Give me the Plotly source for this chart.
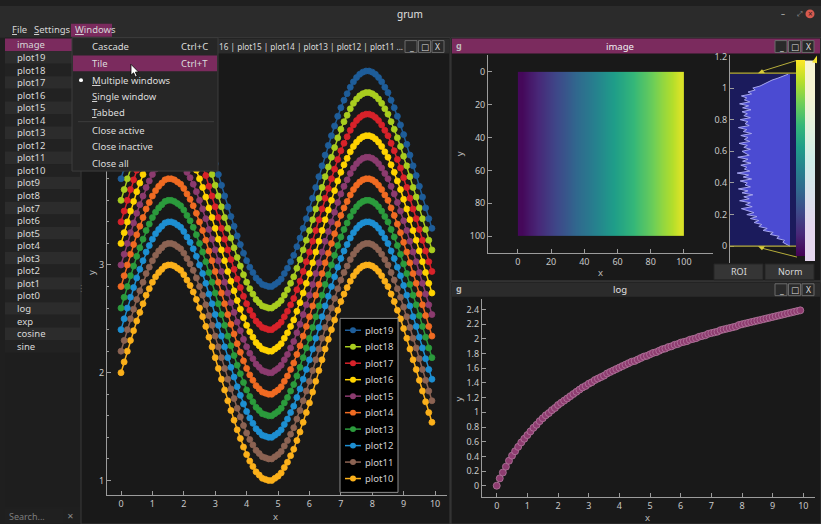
import plotly.graph_objects as go

W, H = 821, 524
FONT = "Noto Sans, DejaVu Sans, sans-serif"

# ---------------- data ----------------
X_VALUES = [
    0.0, 0.1, 0.2, 0.3, 0.4, 0.5, 0.6, 0.7, 0.8, 0.9,
    1.0, 1.1, 1.2, 1.3, 1.4, 1.5, 1.6, 1.7, 1.8, 1.9,
    2.0, 2.1, 2.2, 2.3, 2.4, 2.5, 2.6, 2.7, 2.8, 2.9,
    3.0, 3.1, 3.2, 3.3, 3.4, 3.5, 3.6, 3.7, 3.8, 3.9,
    4.0, 4.1, 4.2, 4.3, 4.4, 4.5, 4.6, 4.7, 4.8, 4.9,
    5.0, 5.1, 5.2, 5.3, 5.4, 5.5, 5.6, 5.7, 5.8, 5.9,
    6.0, 6.1, 6.2, 6.3, 6.4, 6.5, 6.6, 6.7, 6.8, 6.9,
    7.0, 7.1, 7.2, 7.3, 7.4, 7.5, 7.6, 7.7, 7.8, 7.9,
    8.0, 8.1, 8.2, 8.3, 8.4, 8.5, 8.6, 8.7, 8.8, 8.9,
    9.0, 9.1, 9.2, 9.3, 9.4, 9.5, 9.6, 9.7, 9.8, 9.9,
]
SINE_BASE = [
    0.00, 0.10, 0.20, 0.30, 0.39, 0.48, 0.56, 0.64, 0.72, 0.78,
    0.84, 0.89, 0.93, 0.96, 0.99, 1.00, 1.00, 0.99, 0.97, 0.95,
    0.91, 0.86, 0.81, 0.75, 0.68, 0.60, 0.52, 0.43, 0.33, 0.24,
    0.14, 0.04, -0.06, -0.16, -0.26, -0.35, -0.44, -0.53, -0.61, -0.69,
    -0.76, -0.82, -0.87, -0.92, -0.95, -0.98, -0.99, -1.00, -1.00, -0.98,
    -0.96, -0.93, -0.88, -0.83, -0.77, -0.71, -0.63, -0.55, -0.46, -0.37,
    -0.28, -0.18, -0.08, 0.02, 0.12, 0.22, 0.31, 0.40, 0.49, 0.58,
    0.66, 0.73, 0.79, 0.85, 0.90, 0.94, 0.97, 0.99, 1.00, 1.00,
    0.99, 0.97, 0.94, 0.90, 0.85, 0.80, 0.73, 0.66, 0.58, 0.50,
    0.41, 0.32, 0.22, 0.12, 0.03, -0.07, -0.17, -0.27, -0.37, -0.46,
]
SERIES_NAMES = ["plot10", "plot11", "plot12", "plot13", "plot14",
                "plot15", "plot16", "plot17", "plot18", "plot19"]
SERIES_OFFSETS = [2.0, 2.2, 2.4, 2.6, 2.8, 3.0, 3.2, 3.4, 3.6, 3.8]
SERIES_COLORS = ["#fbb01a", "#8c6353", "#1d8fd2", "#2b9b3c", "#f06b22",
                 "#8c3b6f", "#ffd300", "#d8222a", "#a9cd1f", "#1e5d99"]

LOG_VALUES = [
    0.00, 0.10, 0.18, 0.26, 0.34, 0.41, 0.47, 0.53, 0.59, 0.64,
    0.69, 0.74, 0.79, 0.83, 0.88, 0.92, 0.96, 0.99, 1.03, 1.06,
    1.10, 1.13, 1.16, 1.19, 1.22, 1.25, 1.28, 1.31, 1.34, 1.36,
    1.39, 1.41, 1.44, 1.46, 1.48, 1.50, 1.53, 1.55, 1.57, 1.59,
    1.61, 1.63, 1.65, 1.67, 1.69, 1.70, 1.72, 1.74, 1.76, 1.77,
    1.79, 1.81, 1.82, 1.84, 1.86, 1.87, 1.89, 1.90, 1.92, 1.93,
    1.95, 1.96, 1.97, 1.99, 2.00, 2.01, 2.03, 2.04, 2.05, 2.07,
    2.08, 2.09, 2.10, 2.12, 2.13, 2.14, 2.15, 2.16, 2.17, 2.19,
    2.20, 2.21, 2.22, 2.23, 2.24, 2.25, 2.26, 2.27, 2.28, 2.29,
    2.30, 2.31, 2.32, 2.33, 2.34, 2.35, 2.36, 2.37, 2.38, 2.39,
]
LOG_COLOR = "#8e3c70"

# image: mean level of each 5-px column band (x 0..100), rows 0..100
IMAGE_COLUMN_X = [2.5, 7.5, 12.5, 17.5, 22.5, 27.5, 32.5, 37.5, 42.5, 47.5,
                  52.5, 57.5, 62.5, 67.5, 72.5, 77.5, 82.5, 87.5, 92.5, 97.5]
IMAGE_COLUMN_LEVELS = [0.02, 0.07, 0.12, 0.17, 0.22, 0.27, 0.32, 0.37, 0.42, 0.47,
                       0.52, 0.57, 0.62, 0.67, 0.72, 0.77, 0.82, 0.87, 0.92, 0.98]
IMAGE_ROW_Y = [25, 75]
LUT_LEVELS = [0.0, 1.09]

HIST_LEVELS = [
    0.0000, 0.0125, 0.0250, 0.0375, 0.0500, 0.0625, 0.0750, 0.0875, 0.1000, 0.1125,
    0.1250, 0.1375, 0.1500, 0.1625, 0.1750, 0.1875, 0.2000, 0.2125, 0.2250, 0.2375,
    0.2500, 0.2625, 0.2750, 0.2875, 0.3000, 0.3125, 0.3250, 0.3375, 0.3500, 0.3625,
    0.3750, 0.3875, 0.4000, 0.4125, 0.4250, 0.4375, 0.4500, 0.4625, 0.4750, 0.4875,
    0.5000, 0.5125, 0.5250, 0.5375, 0.5500, 0.5625, 0.5750, 0.5875, 0.6000, 0.6125,
    0.6250, 0.6375, 0.6500, 0.6625, 0.6750, 0.6875, 0.7000, 0.7125, 0.7250, 0.7375,
    0.7500, 0.7625, 0.7750, 0.7875, 0.8000, 0.8125, 0.8250, 0.8375, 0.8500, 0.8625,
    0.8750, 0.8875, 0.9000, 0.9125, 0.9250, 0.9375, 0.9500, 0.9625, 0.9750, 0.9875,
    1.0000, 1.0125, 1.0250, 1.0375, 1.0500, 1.0625, 1.0750, 1.0875,
]
HIST_COUNTS = [
    0.00, 0.05, 0.12, 0.09, 0.22, 0.18, 0.33, 0.28, 0.45, 0.38,
    0.52, 0.47, 0.60, 0.52, 0.66, 0.55, 0.72, 0.60, 0.69, 0.81,
    0.63, 0.74, 0.66, 0.84, 0.68, 0.77, 0.62, 0.80, 0.70, 0.86,
    0.66, 0.75, 0.71, 0.83, 0.64, 0.78, 0.69, 0.88, 0.67, 0.76,
    0.72, 0.82, 0.65, 0.79, 0.70, 0.87, 0.68, 0.74, 0.80, 0.66,
    0.77, 0.71, 0.85, 0.67, 0.76, 0.70, 0.82, 0.64, 0.78, 0.72,
    0.86, 0.68, 0.75, 0.70, 0.83, 0.66, 0.77, 0.71, 0.80, 0.65,
    0.79, 0.69, 0.84, 0.67, 0.76, 0.72, 0.81, 0.64, 0.70, 0.58,
    0.62, 0.50, 0.44, 0.36, 0.30, 0.20, 0.12, 0.03,
]

SIDEBAR_ITEMS = ["image", "plot19", "plot18", "plot17", "plot16", "plot15", "plot14",
                 "plot13", "plot12", "plot11", "plot10", "plot9", "plot8", "plot7",
                 "plot6", "plot5", "plot4", "plot3", "plot2", "plot1", "plot0",
                 "log", "exp", "cosine", "sine"]
MENU_ITEMS = ["Cascade", "Tile", "<u>M</u>ultiple windows", "<u>S</u>ingle window",
              "<u>T</u>abbed", "Close active", "Close inactive", "Close all"]
MENU_SHORTCUTS = ["Ctrl+C", "Ctrl+T", "", "", "", "", "", ""]

# ---------------- helpers ----------------
shapes, annotations = [], []


def fx(x):
    return x / W


def fy(y):
    return 1 - y / H


def rect(x0, y0, x1, y1, fill, line=None, lw=0, layer="below"):
    shapes.append(dict(type="rect", xref="paper", yref="paper",
                       x0=fx(x0), x1=fx(x1), y0=fy(y1), y1=fy(y0),
                       fillcolor=fill, layer=layer,
                       line=dict(color=line or fill, width=lw)))


def seg(x0, y0, x1, y1, color, lw=1, layer="above"):
    shapes.append(dict(type="line", xref="paper", yref="paper",
                       x0=fx(x0), x1=fx(x1), y0=fy(y0), y1=fy(y1),
                       layer=layer, line=dict(color=color, width=lw)))


def circ(cx, cy, r, fill, line=None, lw=0, layer="above"):
    shapes.append(dict(type="circle", xref="paper", yref="paper",
                       x0=fx(cx - r), x1=fx(cx + r), y0=fy(cy + r), y1=fy(cy - r),
                       fillcolor=fill, layer=layer,
                       line=dict(color=line or fill, width=lw)))


def poly(pts, fill, line=None, lw=0, layer="above"):
    d = "M " + " L ".join(f"{fx(x):.5f} {fy(y):.5f}" for x, y in pts) + " Z"
    shapes.append(dict(type="path", xref="paper", yref="paper", path=d,
                       fillcolor=fill, layer=layer,
                       line=dict(color=line or fill, width=lw)))


def text(x, y, s, size=9.5, color="#d6d6d6", anchor="center", angle=0):
    annotations.append(dict(xref="paper", yref="paper", x=fx(x), y=fy(y),
                            text=s, showarrow=False, textangle=angle,
                            xanchor=anchor, yanchor="middle", borderpad=0,
                            font=dict(family=FONT, size=size, color=color)))


def win_buttons(x_right, y0):
    glyphs = ["_", "□", "X"]
    for i, g in enumerate(glyphs):
        bx = x_right - 38 + i * 13.5
        rect(bx, y0, bx + 12, y0 + 12, "#2a2a2a", "#6a6a6a", 1, layer="below")
        text(bx + 6, y0 + 6, g, size=8.5, color="#dddddd")


# ---------------- chrome: app window ----------------
PURPLE = "#7b2b5e"
rect(0, 0, W, 32, "#2b2b2b")
text(410, 8, "grum", size=10, color="#e0e0e0")
text(783, 8, "–", size=8, color="#bbbbbb")
text(800, 8, "⤢", size=7, color="#999999")
circ(810, 8, 4.5, "#d65a4f")
text(810, 8, "×", size=8, color="#3a1a1a")

text(11, 24, "<u>F</u>ile", size=9.5, anchor="left")
text(33, 24, "<u>S</u>ettings", size=9.5, anchor="left")
rect(71, 18, 112, 31, PURPLE)
text(74, 24, "<u>W</u>indows", size=9.5, anchor="left")

# sidebar
rect(5, 32, 80, 506, "#1e1e1e")
ROW_H = 12.7
for i, name in enumerate(SIDEBAR_ITEMS):
    top = 33 + ROW_H * i
    if i == 0:
        col = PURPLE
    elif i % 2 == 1:
        col = "#2c2c2c"
    else:
        col = "#222222"
    rect(5, top, 80, top + ROW_H, col)
    text(16, top + ROW_H / 2, name, size=9.5, anchor="left", color="#d8d8d8")
rect(5, 508, 63, 523, "#202020")
text(8, 516, "Search...", size=9, anchor="left", color="#7d7d7d")
text(70, 515, "✕", size=8, color="#8a8a8a")
text(81, 285, "⋮", size=8, color="#666666")

# ---------------- windows ----------------
PLOT_BG = "#191919"
# main plot window
rect(81, 32, 450, 524, PLOT_BG, "#3a3a3a", 1)
rect(82, 33, 449, 48, "#2b2b2b")
text(218, 41, "16 | plot15 | plot14 | plot13 | plot12 | plot11 ...", size=8.2,
     anchor="left", color="#dcdcdc")
win_buttons(443, 35)

# image window
rect(451, 32, 821, 278, PLOT_BG, "#3a3a3a", 1)
rect(452, 33, 820, 48, PURPLE)
text(459, 40, "<b>g</b>", size=9, color="#c0c0c0")
text(620, 41, "image", size=9.5, color="#f0f0f0")
win_buttons(813, 35)

# log window
rect(451, 279, 821, 524, PLOT_BG, "#3a3a3a", 1)
rect(452, 280, 820, 294, "#2b2b2b")
text(459, 286, "<b>g</b>", size=9, color="#c0c0c0")
text(620, 287, "log", size=9.5, color="#e0e0e0")
win_buttons(813, 281)

# LUT region behind histogram (data coords on hist axis)
shapes.append(dict(type="rect", xref="x3 domain", yref="y3",
                   x0=0, x1=1, y0=LUT_LEVELS[0], y1=LUT_LEVELS[1],
                   fillcolor="#1b1b5c", line=dict(width=0), layer="below"))

# ---------------- traces ----------------
fig = go.Figure()

# main plot (sine family)
for name, off, col in zip(SERIES_NAMES, SERIES_OFFSETS, SERIES_COLORS):
    fig.add_trace(go.Scatter(
        x=X_VALUES, y=[b + off for b in SINE_BASE], name=name,
        mode="lines+markers", showlegend=False,
        line=dict(color=col, width=1.5),
        marker=dict(color=col, size=6, line=dict(color=col, width=0.8)),
        xaxis="x", yaxis="y"))

# image
fig.add_trace(go.Heatmap(
    x=IMAGE_COLUMN_X, y=IMAGE_ROW_Y,
    z=[IMAGE_COLUMN_LEVELS for _ in IMAGE_ROW_Y],
    colorscale="Viridis", zmin=LUT_LEVELS[0], zmax=LUT_LEVELS[1] - 0.05,
    zsmooth="best", xaxis="x2", yaxis="y2", showscale=True,
    colorbar=dict(x=fx(796), xanchor="left", y=fy(253), yanchor="bottom",
                  len=(253 - 55) / H, lenmode="fraction",
                  thickness=9, thicknessmode="pixels", xpad=0, ypad=0,
                  outlinewidth=0, showticklabels=False, ticks="")))

# histogram of levels
fig.add_trace(go.Scatter(
    x=HIST_COUNTS, y=HIST_LEVELS, mode="lines", fill="tozerox",
    fillcolor="#4b4bd2", line=dict(color="#a6a6ee", width=1),
    showlegend=False, xaxis="x3", yaxis="y3"))

# light gradient-editor strip
LUT_STRIP = [0.0, 0.5, 1.0]
fig.add_trace(go.Heatmap(
    x=[0, 1], y=LUT_STRIP, z=[[v, v] for v in LUT_STRIP],
    colorscale=[[0, "#e4d6ee"], [0.5, "#cfeee9"], [1, "#f6f4d2"]],
    zsmooth="best", showscale=False, xaxis="x5", yaxis="y5", hoverinfo="skip"))

# log plot
fig.add_trace(go.Scatter(
    x=X_VALUES, y=LOG_VALUES, mode="lines+markers", showlegend=False,
    line=dict(color=LOG_COLOR, width=1),
    marker=dict(color=LOG_COLOR, size=7, line=dict(color="#b47a9e", width=0.8)),
    xaxis="x4", yaxis="y4"))

# ---------------- overlays: LUT markers, buttons, legend, menu ----------------
YEL = "#b6ad3a"
seg(730, 68, 796, 68, YEL, 1.2)
seg(730, 243, 796, 243, YEL, 1.2)
seg(762, 66, 797, 55, YEL, 1)
seg(762, 245, 797, 254, YEL, 1)
poly([(758, 68), (765, 68), (762, 64)], "#d8cc3a")
poly([(758, 243), (765, 243), (762, 247)], "#d8cc3a")
poly([(812, 57), (817, 50), (817, 58)], "#f2e130")

rect(714, 261, 763, 277, "#353535", "#262626", 1, layer="above")
rect(765, 261, 814, 277, "#353535", "#262626", 1, layer="above")
text(738.5, 269, "ROI", size=9, color="#d8d8d8")
text(789.5, 269, "Norm", size=9, color="#d8d8d8")

# legend of the main plot (plot19 at top)
rect(340, 316, 398, 492, "#000000", "#8c8c8c", 1, layer="above")
for i, (name, col) in enumerate(zip(SERIES_NAMES[::-1], SERIES_COLORS[::-1])):
    yy = 328 + 16.67 * i
    seg(345, yy, 361, yy, col, 1.5)
    circ(353, yy, 3, col)
    text(364, yy, name, size=9.5, anchor="left", color="#cfcfcf")

# Windows menu dropdown
rect(72, 32, 218, 167, "#262626", "#3c3c3c", 1, layer="above")
rect(73, 50, 217, 66, PURPLE, layer="above")
seg(78, 117, 214, 117, "#3c3c3c", 1)
MENU_Y = [41, 58, 75, 92, 108, 126, 142, 159]
for label, sc, yy in zip(MENU_ITEMS, MENU_SHORTCUTS, MENU_Y):
    text(91, yy, label, size=9.5, anchor="left", color="#dcdcdc")
    if sc:
        text(209, yy, sc, size=9.5, anchor="right", color="#dcdcdc")
circ(81, 75, 2, "#ffffff")
poly([(131, 59), (131, 70), (133.6, 67.6), (135.4, 71.8), (137.2, 71), (135.4, 66.9),
      (138.6, 66.8)], "#ffffff", "#000000", 0.8)

# axis titles
text(275, 516, "x", size=9.5, color="#bbbbbb")
text(92, 270, "y", size=9.5, color="#bbbbbb", angle=-90)
text(600, 270, "x", size=9.5, color="#bbbbbb")
text(459, 150, "y", size=9.5, color="#bbbbbb", angle=-90)
text(647, 517, "x", size=9.5, color="#bbbbbb")
text(458, 398, "y", size=9.5, color="#bbbbbb", angle=-90)

# ---------------- axes ----------------
AX_LINE = "#9c9c9c"
TICK_FONT = dict(family=FONT, size=9, color="#c8c8c8")


def axis(domain, rng, dtick, **kw):
    d = dict(domain=domain, range=rng, dtick=dtick, showgrid=False, zeroline=False,
             showline=True, linecolor=AX_LINE, linewidth=1, ticks="inside",
             ticklen=4, tickcolor=AX_LINE, tickfont=TICK_FONT, fixedrange=True)
    d.update(kw)
    return d


fig.update_layout(
    width=W, height=H, autosize=False,
    margin=dict(l=0, r=0, t=0, b=0, pad=0),
    paper_bgcolor="#1f1f1f", plot_bgcolor="rgba(0,0,0,0)",
    showlegend=False, shapes=shapes, annotations=annotations,
    font=dict(family=FONT),
    xaxis=axis([fx(107), fx(447)], [-0.446, 10.38], 1, anchor="y"),
    yaxis=axis([fy(495), fy(50)], [0.862, 4.945], 1, anchor="x",
               tickmode="array", tickvals=[1, 2, 3, 4], ticktext=["1", "2", "3", ""],
               minor=dict(dtick=0.2, ticklen=2, tickcolor=AX_LINE, ticks="inside")),
    xaxis2=axis([fx(488), fx(713)], [-18, 117.5], 20, anchor="y2"),
    yaxis2=axis([fy(250), fy(50)], [110.3, -10], 20, anchor="x2"),
    xaxis3=dict(domain=[fx(730), fx(796)], range=[1.0, -0.1], visible=False,
                anchor="y3", fixedrange=True),
    yaxis3=axis([fy(260), fy(50)], [-0.106, 1.206], 0.2, anchor="x3"),
    xaxis4=axis([fx(482), fx(815)], [-0.48, 10.38], 1, anchor="y4"),
    yaxis4=axis([fy(497), fy(296)], [-0.158, 2.55], 0.2, anchor="x4"),
    xaxis5=dict(domain=[fx(805), fx(815)], visible=False, anchor="y5", fixedrange=True),
    yaxis5=dict(domain=[fy(258), fy(55)], visible=False, anchor="x5", fixedrange=True),
)

fig.write_html("out.html")
